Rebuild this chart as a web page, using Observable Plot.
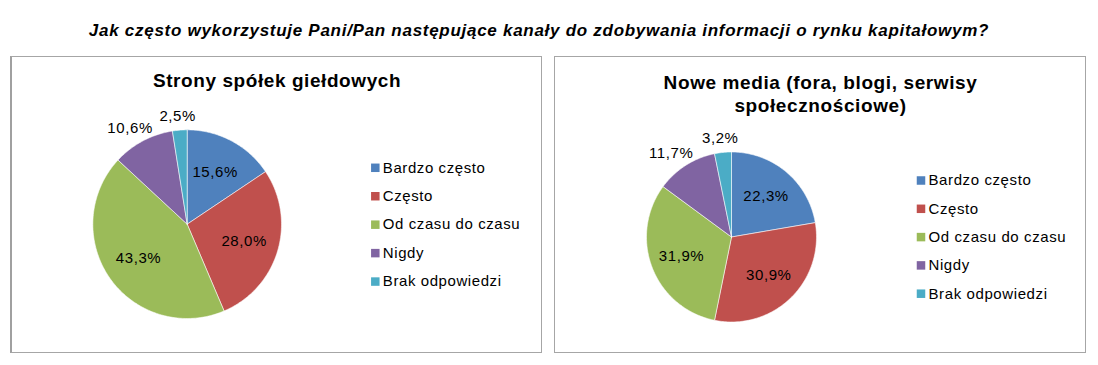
<!DOCTYPE html>
<html><head><meta charset="utf-8">
<script src="https://cdn.jsdelivr.net/npm/d3@7"></script>
<script src="https://cdn.jsdelivr.net/npm/@observablehq/plot@0.6"></script>
<style>
body{margin:0;background:#fff;font-family:"Liberation Sans",Arial,sans-serif;}
#wrap{position:relative;width:1098px;height:365px;background:#fff;overflow:hidden;}
#title{position:absolute;left:-10px;top:20px;width:1098px;text-align:center;font-weight:bold;font-style:italic;font-size:17px;letter-spacing:0.72px;line-height:21px;color:#000;}
.panel{position:absolute;top:56px;height:297px;width:532px;box-sizing:border-box;border:1px solid #a6a6a6;background:#fff;}
.panel svg{display:block}
</style></head><body>
<div id="wrap"><div id="title"></div><div class="panel" id="p1" style="left:10px;border-left:2px solid #a0a0a0"></div><div class="panel" id="p2" style="left:554px"></div></div>
<script>
const mainTitle = "Jak często wykorzystuje Pani/Pan następujące kanały do zdobywania informacji o rynku kapitałowym?";
const categories = ["Bardzo często", "Często", "Od czasu do czasu", "Nigdy", "Brak odpowiedzi"];
const colors = ["#4F81BD", "#C0504D", "#9BBB59", "#8064A2", "#4BACC6"];
const stronyTitle = ["Strony spółek giełdowych"];
const stronyValues = [15.6, 28.0, 43.3, 10.6, 2.5];
const mediaTitle = ["Nowe media (fora, blogi, serwisy", "społecznościowe)"];
const mediaValues = [22.3, 30.9, 31.9, 11.7, 3.2];

document.getElementById("title").textContent = mainTitle;

const W = 530, H = 295;
const FONT = "'Liberation Sans', Arial, sans-serif";

function pieChart(titleLines, values, L) {
  const total = d3.sum(values);
  let acc = 0;
  const slices = values.map((v, i) => {
    const a0 = acc / total * 2 * Math.PI; acc += v;
    const a1 = acc / total * 2 * Math.PI;
    return {cat: categories[i], v, a0, a1};
  });
  const pts = [];
  for (const s of slices) {
    pts.push({cat: s.cat, x: L.cx, y: L.cy});
    const n = Math.max(2, Math.ceil((s.a1 - s.a0) / (Math.PI / 180)));
    for (let k = 0; k <= n; k++) {
      const a = s.a0 + (s.a1 - s.a0) * k / n;
      pts.push({cat: s.cat, x: L.cx + L.r * Math.sin(a), y: L.cy - L.r * Math.cos(a)});
    }
    pts.push({cat: s.cat, x: L.cx, y: L.cy});
  }
  const labels = slices.map(s => {
    const m = (s.a0 + s.a1) / 2, sn = Math.sin(m), cs = Math.cos(m);
    const text = s.v.toFixed(1).replace(".", ",") + "%";
    if (s.v >= 15) {
      const d = L.r * 0.63;
      return {text, x: L.cx + d * sn, y: L.cy - d * cs};
    } else {
      const d = L.r + 5;
      return {text, x: L.cx + d * sn + sn * 22, y: L.cy - d * cs - cs * 9};
    }
  });
  const legend = categories.map((c, i) => ({cat: c, x: L.lx, y: L.ly + i * L.ldy}));
  const titles = titleLines.map((t, i) => ({t, x: W / 2, y: L.ty + i * 23.5}));
  return Plot.plot({
    width: W, height: H, margin: 0,
    x: {type: "linear", domain: [0, W], range: [0, W], axis: null},
    y: {type: "linear", domain: [0, H], range: [0, H], axis: null},
    color: {domain: categories, range: colors},
    style: {fontFamily: FONT, background: "white", overflow: "visible"},
    marks: [
      Plot.line(pts, {x: "x", y: "y", z: "cat", fill: "cat", stroke: "#ffffff", strokeWidth: 0.7, strokeOpacity: 0.8, curve: "linear"}),
      Plot.text(labels, {x: "x", y: "y", text: "text", fontSize: 15, fill: "#000"}),
      Plot.dot(legend, {x: "x", y: "y", fill: "cat", symbol: "square", r: 4.8}),
      Plot.text(legend, {x: d => d.x + 7.5, y: "y", text: "cat", textAnchor: "start", fontSize: 15, fill: "#000"}),
      Plot.text(titles, {x: "x", y: "y", text: "t", fontSize: 19, fontWeight: "bold", fill: "#000"})
    ]
  });
}

const c1 = pieChart(stronyTitle, stronyValues, {cx: 175, cy: 167, r: 94.5, lx: 363.5, ly: 110.5, ldy: 28.5, ty: 23});
const c2 = pieChart(mediaTitle, mediaValues, {cx: 176, cy: 179.5, r: 85, lx: 365.5, ly: 123, ldy: 28.3, ty: 25});
for (const c of [c1, c2]) c.querySelectorAll("text").forEach(t => t.style.letterSpacing = t.getAttribute("font-weight") === "bold" ? "0.35px" : "0.6px");
document.getElementById("p1").appendChild(c1);
document.getElementById("p2").appendChild(c2);
</script>
</body></html>
